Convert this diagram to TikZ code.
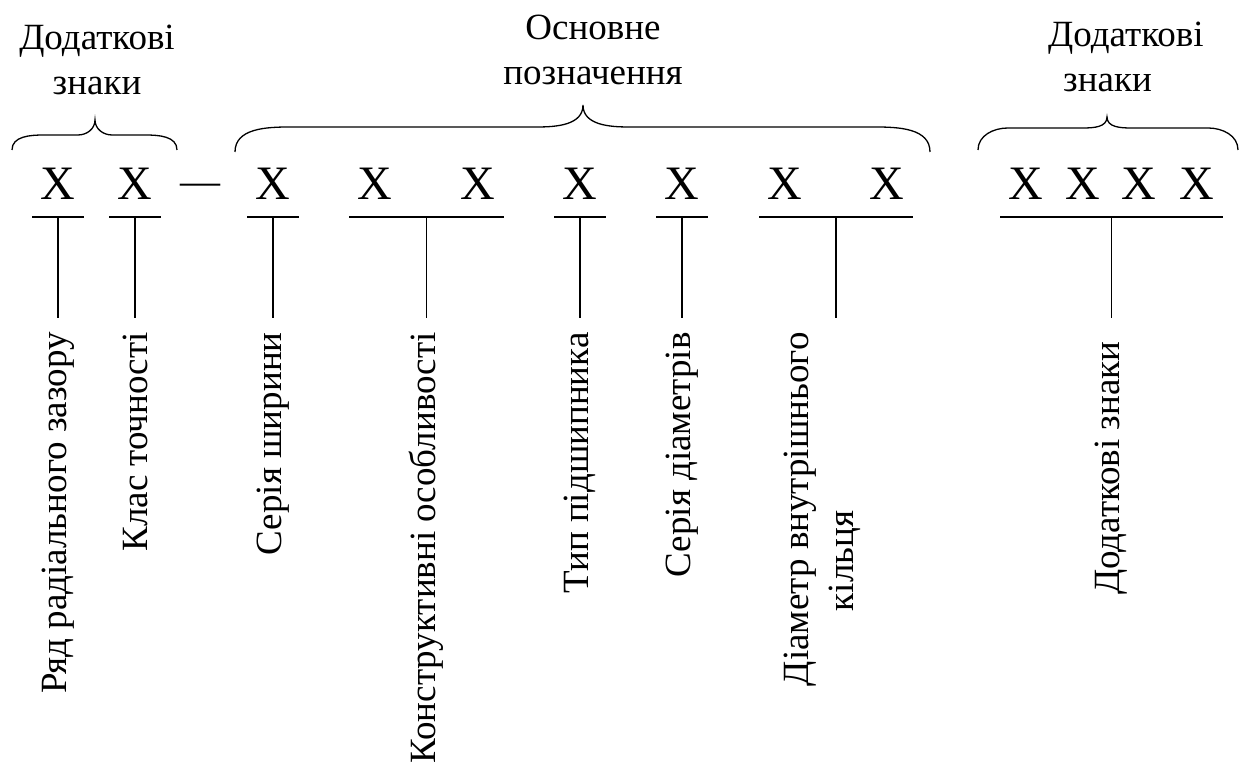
\documentclass[tikz,border=0pt]{standalone}
\usepackage{fontspec}
\setmainfont{Liberation Serif}
\usetikzlibrary{calc}
\definecolor{bearink}{HTML}{000000}
\tikzset{
  xmark/.style={font=\fontsize{48}{48}\selectfont, text=bearink, anchor=base,
    inner xsep=8pt, inner ysep=0pt, text height=33pt, text depth=17pt},
  headtext/.style={font=\fontsize{37}{45}\selectfont, text=bearink,
    align=center, inner sep=0pt},
  stemlabel/.style={font=\fontsize{37}{45}\selectfont, text=bearink,
    rotate=90, anchor=east, align=left, inner xsep=14pt, inner ysep=0pt},
  dashmark/.style={font=\fontsize{40}{40}\selectfont, text=bearink,
    anchor=base, inner sep=0pt},
  underbar/.style={draw=bearink, line width=1.7pt},
  stemline/.style={draw=bearink, line width=1.3pt},
  bracemark/.style={draw=bearink, line width=1.3pt}
}

\begin{document}
\begin{tikzpicture}[x=1pt,y=1pt]
  \useasboundingbox (0,0) rectangle (1243,767);
  % Designation positions, one X per sign
  \foreach \sign/\sx in {a/58,b/135,c/273,d/375,e/478,f/580,g/682,h/785,i/887,
                         j/1026,k/1083,l/1139,m/1197} {
    \node[xmark] (x\sign) at (\sx,567) {X};
  }
  \node[dashmark] (dash) at (200,572) {—};

  % Group headings and braces
  \node[headtext, anchor=north] (leftsigns) at (97,742) {Додаткові\\знаки};
  \node[headtext, anchor=north] (mainname) at (593,752) {Основне\\позначення};
  \node[headtext, anchor=north west, align=left] (rightsigns) at (1048,745)
    {Додаткові\\\hspace*{15pt}знаки};
  \draw[bracemark] (12,617) to[out=90,in=180] (44,632) -- (78,632)
    to[out=0,in=-90] (95,647) to[out=-90,in=180] (112,632) -- (145,632)
    to[out=0,in=90] (177,617);
  \draw[bracemark] (235,615) to[out=90,in=180] (290,640) -- (537,640)
    to[out=0,in=-90] (583,662) to[out=-90,in=180] (629,640) -- (875,640)
    to[out=0,in=90] (930,615);
  \draw[bracemark] (978,617) to[out=90,in=180] (1008,639) -- (1083,639)
    to[out=0,in=-90] (1107,650) to[out=-90,in=180] (1131,639) -- (1208,639)
    to[out=0,in=90] (1238,617);

  % Underline, stem and rotated caption for each group
  \foreach \from/\upto/\dx/\caplabel in {
    xa/xa/0/{Ряд радіального зазору},
    xb/xb/0/{Клас точності},
    xc/xc/0/{Серія ширини},
    xd/xe/0/{Конструктивні особливості},
    xf/xf/0/{Тип підшипника},
    xg/xg/0/{Серія діаметрів},
    xh/xi/-14/{Діаметр внутрішнього\\\hspace*{75pt}кільця},
    xj/xm/0/{Додаткові знаки}
  } {
    \draw[underbar] (\from.south west) -- (\upto.south east);
    \coordinate (m\from) at ($(\from.south west)!.5!(\upto.south east)$);
    \node[stemlabel] (l\from) at ($(m\from)+(\dx,-101)$) {\caplabel};
    \draw[stemline] (m\from) -- (m\from |- l\from.east);
  }
\end{tikzpicture}
\end{document}
